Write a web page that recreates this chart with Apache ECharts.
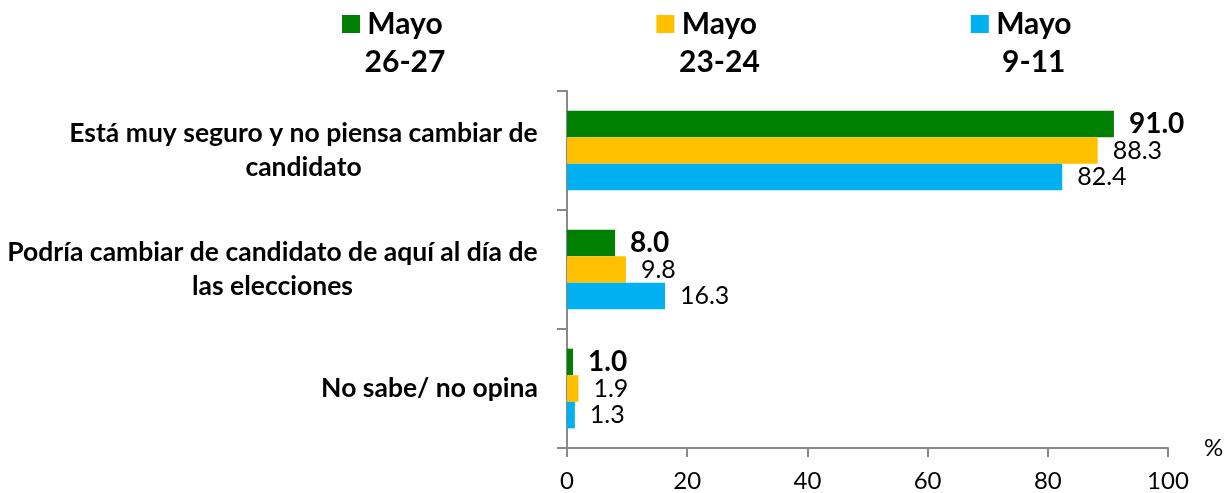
<!DOCTYPE html>
<html>
<head>
<meta charset="utf-8">
<script src="https://cdn.jsdelivr.net/npm/echarts@6/dist/echarts.min.js"></script>
<style>
    html, body { margin: 0; padding: 0; background: #fff; }
    #chart { width: 1227px; height: 493px; }
</style>
</head>
<body>
<div id="chart"></div>
<script>
// datos
const categories = [
    'Está muy seguro y no piensa cambiar de\ncandidato',
    'Podría cambiar de candidato de aquí al día de\nlas elecciones',
    'No sabe/ no opina'
];
const seriesNames = ['Mayo 26-27', 'Mayo 23-24', 'Mayo 9-11'];
const mayo2627 = [91.0, 8.0, 1.0];
const mayo2324 = [88.3, 9.8, 1.9];
const mayo911 = [82.4, 16.3, 1.3];
const colors = ['#008000', '#FFC000', '#00B0F0'];

const FONT = 'Lato';
const axisColor = '#898989';

// centrar cada linea dentro del bloque de la etiqueta
const ctx = document.createElement('canvas').getContext('2d');
ctx.font = 'bold 26.5px ' + FONT;
const catRich = {};
categories.forEach((c, i) => {
    const w = Math.max(...c.split('\n').map(l => ctx.measureText(l).width));
    catRich['c' + i] = {
        width: Math.ceil(w),
        align: 'center',
        fontFamily: FONT,
        fontWeight: 'bold',
        fontSize: 26.5,
        lineHeight: 34,
        color: '#000'
    };
});

// icono cuadrado alineado con la primera linea de la leyenda
const legendIcon = 'path://M0,0L0,0M0,10L18,10L18,28L0,28ZM0,76L0,76';

const makeSeries = (name, values, i) => ({
    name: name,
    type: 'bar',
    data: values,
    barGap: 0,
    barCategoryGap: '33%',
    itemStyle: { color: colors[i] },
    label: {
        show: true,
        position: 'right',
        distance: 15,
        color: '#000',
        fontFamily: FONT,
        fontSize: i === 0 ? 28 : 25,
        fontWeight: i === 0 ? 'bold' : 'normal',
        formatter: p => p.value.toFixed(1)
    }
});

const option = {
    animation: false,
    grid: { left: 567, right: 59, top: 91, bottom: 45, containLabel: false },
    legend: {
        data: seriesNames,
        left: 342,
        top: 5,
        padding: 0,
        itemGap: 211,
        itemWidth: 18,
        itemHeight: 76,
        icon: legendIcon,
        formatter: name => '{a|' + name.replace(' ', '}\n{a|') + '}',
        textStyle: {
            rich: {
                a: {
                    width: 80,
                    align: 'center',
                    fontFamily: FONT,
                    fontWeight: 'bold',
                    fontSize: 30,
                    lineHeight: 38,
                    color: '#000'
                }
            }
        }
    },
    xAxis: {
        type: 'value',
        min: 0,
        max: 100,
        interval: 20,
        name: '%',
        nameLocation: 'end',
        nameGap: 36,
        nameTextStyle: { fontFamily: FONT, fontSize: 24, color: '#000', padding: [6, 0, 0, 0] },
        splitLine: { show: false },
        axisLine: { show: true, lineStyle: { color: axisColor, width: 2 } },
        axisTick: { show: true, length: 9, lineStyle: { color: axisColor, width: 2 } },
        axisLabel: { fontFamily: FONT, fontSize: 24, color: '#000', margin: 21 }
    },
    yAxis: {
        type: 'category',
        inverse: true,
        data: categories,
        axisLine: { show: true, lineStyle: { color: axisColor, width: 2 } },
        axisTick: { show: true, length: 10, alignWithLabel: false, lineStyle: { color: axisColor, width: 2 } },
        axisLabel: {
            margin: 29,
            formatter: (value, idx) => value.split('\n').map(l => '{c' + idx + '|' + l + '}').join('\n'),
            rich: catRich
        }
    },
    series: [
        makeSeries(seriesNames[0], mayo2627, 0),
        makeSeries(seriesNames[1], mayo2324, 1),
        makeSeries(seriesNames[2], mayo911, 2)
    ]
};

const myChart = echarts.init(document.getElementById('chart'));
myChart.setOption(option);
</script>
</body>
</html>
